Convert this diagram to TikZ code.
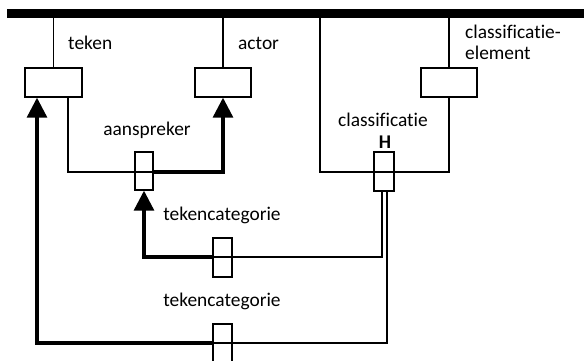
\documentclass[tikz,border=0pt]{standalone}
\usepackage{fontspec}
\setmainfont{Carlito}[RawFeature=-liga]
\usetikzlibrary{arrows.meta}
\begin{document}
\begin{tikzpicture}[x=1pt,y=-1pt,
  thinline/.style={line width=1.4pt},
  thickline/.style={line width=3.2pt},
  arr/.style={-{Triangle[width=20pt,length=20pt]}},
  wbox/.style={draw,line width=1.4pt,inner sep=0pt,minimum width=#1},
  lbl/.style={font=\fontsize{19.4}{23}\selectfont,inner sep=0pt}
]
\useasboundingbox (0,0) rectangle (584,360);
\node[fill=black,inner sep=0pt,minimum width=577pt,minimum height=9.5pt] (bar) at (295.5,13.5) {};
% boxes
\node[wbox=57pt,minimum height=29pt] (teken) at (53.5,82.5) {};
\node[wbox=56pt,minimum height=29pt] (actor) at (223,82.5) {};
\node[wbox=56pt,minimum height=29pt] (celem) at (449,82.5) {};
\node[wbox=18pt,minimum height=38pt] (aansp) at (144,171) {};
\node[wbox=20pt,minimum height=39pt] (class) at (384,171.5) {};
\node[wbox=19pt,minimum height=39pt] (tc1) at (222.5,257.5) {};
\node[wbox=19pt,minimum height=39pt] (tc2) at (222.5,343.5) {};
% corner coordinates
\coordinate (a1) at (68,172);
\coordinate (a2) at (223,172);
\coordinate (c1) at (320,172);
\coordinate (c2) at (449,172);
\coordinate (d1) at (382,257);
\coordinate (d2) at (144,257);
\coordinate (e1) at (387,343);
\coordinate (e2) at (37,343);
% top lines
\draw[thinline] (teken.north) -- (teken.north |- bar.south);
\draw[thinline] (actor.north) -- (actor.north |- bar.south);
\draw[thinline] (celem.north) -- (celem.north |- bar.south);
% aanspreker
\draw[thinline] (a1 |- teken.south) -- (a1) -- (aansp.east |- a1);
\draw[thickline,arr] (aansp.east |- a2) -- (a2) -- (actor.south);
% classificatie
\draw[thinline] (c1 |- bar.south) -- (c1) -- (c2) -- (celem.south);
% double lines
\draw[thinline] (d1 |- class.south) -- (d1) -- (tc1.west |- d1);
\draw[thickline,arr] (tc1.west |- d1) -- (d2) -- (aansp.south);
\draw[thinline] (e1 |- class.south) -- (e1) -- (tc2.west |- e1);
\draw[thickline,arr] (tc2.west |- e1) -- (e2) -- (e2 |- teken.south);
% labels
\node[lbl,anchor=west] (lteken) at (68,43) {teken};
\node[lbl,anchor=west] (lactor) at (238,43) {actor};
\node[lbl] (laansp) at (147,130) {aanspreker};
\node[lbl] (lclass) at (383,120) {classificatie};
\node[lbl,font=\fontsize{19.4}{23}\selectfont\bfseries] (lH) at (385,142) {H};
\node[lbl,anchor=west] (lce1) at (465,32) {classificatie-};
\node[lbl,anchor=west] (lce2) at (465,53) {element};
\node[lbl] (ltc1) at (222,215) {tekencategorie};
\node[lbl] (ltc2) at (222,301) {tekencategorie};
\end{tikzpicture}
\end{document}
